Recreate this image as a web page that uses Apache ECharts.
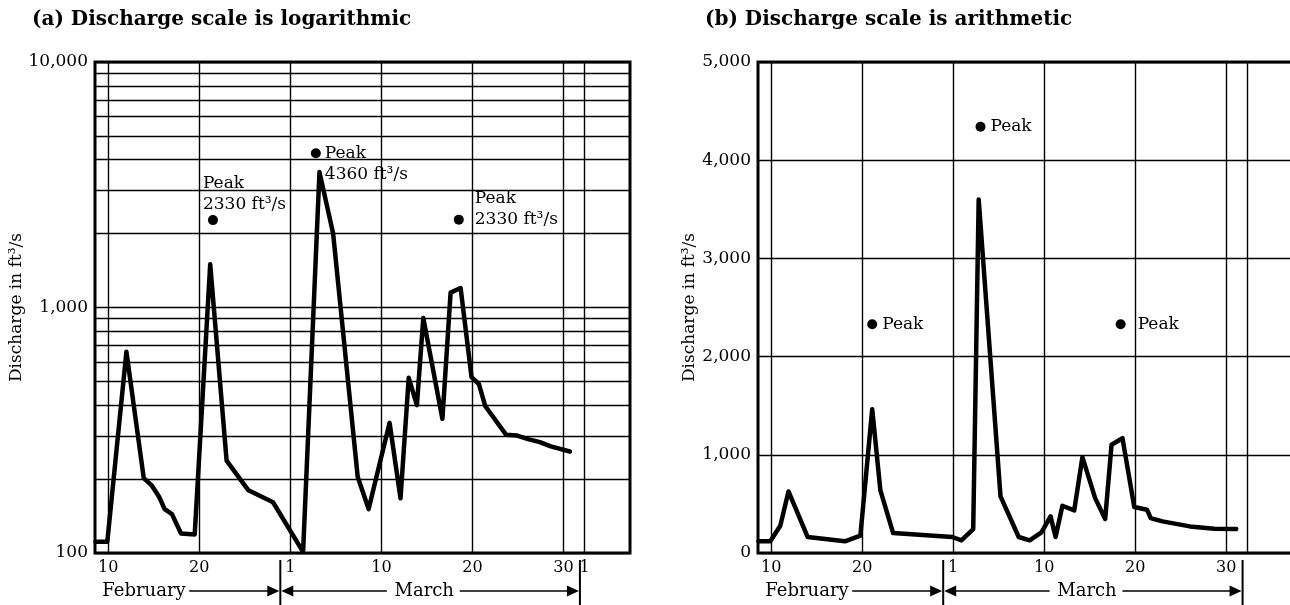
<!DOCTYPE html>
<html>
<head>
<meta charset="utf-8">
<script src="https://cdn.jsdelivr.net/npm/echarts@6/dist/echarts.min.js"></script>
<style>
  html, body { margin: 0; background: #fff; }
  #main { width: 1290px; height: 605px; }
</style>
</head>
<body>
<div id="main"></div>
<script>
// x is a nominal day count: Feb 10 = 10, Mar 1 = 30, Mar 30 = 60, Apr 1 = 62.3
var tickDays = [10, 20, 30, 40, 50, 60, 62.3];
var tickLabels = ['10', '20', '1', '10', '20', '30', '1'];
var arithLabelDays = [10, 20, 30, 40, 50, 60];

var logTicks = [100, 200, 300, 400, 500, 600, 700, 800, 900,
  1000, 2000, 3000, 4000, 5000, 6000, 7000, 8000, 9000, 10000];
var logLabelValues = [100, 1000, 10000];

// (a) hydrograph as drawn on the log panel
var logDays = [8.6, 9.9, 12.0, 13.9, 14.8, 15.6, 16.2, 17.0, 18.0, 19.5, 21.2, 23.0,
  25.4, 28.1, 31.4, 33.2, 34.7, 37.4, 38.6, 40.9, 42.1, 43.0, 43.9, 44.6, 46.7, 47.6,
  48.7, 49.9, 50.7, 51.4, 53.7, 54.9, 56.1, 57.4, 58.6, 60.7];
var logFlow = [111, 111, 660, 202, 188, 169, 151, 144, 120, 119, 1500, 238,
  180, 161, 101, 3560, 2000, 204, 151, 339, 167, 517, 400, 906, 352, 1150,
  1200, 520, 488, 397, 303, 301, 291, 283, 272, 259];

// (b) hydrograph as drawn on the arithmetic panel
var arithDays = [8.6, 9.9, 11.0, 11.9, 14.0, 18.1, 19.8, 21.1, 22.0, 23.4, 29.9, 30.9,
  32.2, 32.8, 35.2, 37.2, 38.4, 39.7, 40.7, 41.25, 42.0, 43.3, 44.2, 45.6, 46.7, 47.4,
  48.6, 49.9, 51.3, 51.7, 53.0, 56.0, 58.7, 61.1];
var arithFlow = [120, 119, 278, 627, 163, 119, 176, 1464, 637, 203, 163, 129,
  244, 3600, 576, 163, 129, 210, 373, 163, 481, 434, 976, 559, 346, 1102,
  1169, 468, 441, 356, 322, 271, 247, 244];

// peak discharge dots, as placed on each panel
var logPeakDays = [21.5, 32.8, 48.5];
var logPeakFlow = [2270, 4250, 2280];
var logPeakText = ['Peak\n2330 ft\u00B3/s', 'Peak\n4360 ft\u00B3/s', 'Peak\n2330 ft\u00B3/s'];
var arithPeakDays = [21.1, 33.0, 48.4];
var arithPeakFlow = [2330, 4340, 2330];

var FONT = 'DejaVu Serif';
var INK = '#000';

function pairs(xs, ys) {
  return xs.map(function (x, i) { return [x, ys[i]]; });
}

function dayLabel(v) {
  var best = 0;
  tickDays.forEach(function (d, i) {
    if (Math.abs(d - v) < Math.abs(tickDays[best] - v)) best = i;
  });
  return tickLabels[best];
}

function xAxisFor(gridIndex, max, labelDays) {
  return {
    type: 'value', gridIndex: gridIndex, min: 8.55, max: max,
    axisLine: { show: false },
    axisTick: { show: false, customValues: tickDays },
    splitLine: { show: true, lineStyle: { color: INK, width: 1.4 } },
    axisLabel: {
      customValues: labelDays, margin: 7, color: INK,
      fontFamily: FONT, fontSize: 16, formatter: dayLabel
    }
  };
}

var yName = {
  name: 'Discharge in ft\u00B3/s', nameLocation: 'middle', nameGap: 60,
  nameTextStyle: { fontFamily: FONT, fontSize: 17, color: INK }
};

var logPeakLabels = [
  { show: true, position: 'top', distance: 0, align: 'left', offset: [-10, 0] },
  { show: true, position: 'right', distance: 4, verticalAlign: 'top', offset: [0, -10.5] },
  { show: true, position: 'right', distance: 11, verticalAlign: 'bottom', offset: [0, 10.5] }
];
var arithPeakDistance = [5, 5, 12];

var peakLabelStyle = { color: INK, fontFamily: FONT, fontSize: 17, lineHeight: 21 };
var titleStyle = { fontFamily: FONT, fontWeight: 'bold', fontSize: 20, color: INK };

var option = {
  animation: false,
  title: [
    { text: '(a) Discharge scale is logarithmic', left: 32, top: 10, padding: 0, textStyle: titleStyle },
    { text: '(b) Discharge scale is arithmetic', left: 705, top: 10, padding: 0, textStyle: titleStyle }
  ],
  grid: [
    { left: 95, right: 660, top: 62, bottom: 52, show: true, borderColor: INK, borderWidth: 3, outerBoundsMode: 'none' },
    { left: 758, right: -4, top: 62, bottom: 52, show: true, borderColor: INK, borderWidth: 3, outerBoundsMode: 'none' }
  ],
  xAxis: [
    xAxisFor(0, 67.3, tickDays),
    xAxisFor(1, 67.45, arithLabelDays)
  ],
  yAxis: [
    Object.assign({
      type: 'log', gridIndex: 0, logBase: 10, min: 100, max: 10000,
      axisLine: { show: false },
      axisTick: { show: false, customValues: logTicks },
      splitLine: { show: true, lineStyle: { color: INK, width: 1.4 } },
      axisLabel: {
        customValues: logLabelValues, margin: 7, color: INK, fontFamily: FONT, fontSize: 17,
        formatter: function (v) { return Math.round(v).toLocaleString('en'); }
      }
    }, yName),
    Object.assign({
      type: 'value', gridIndex: 1, min: 0, max: 5000, interval: 1000,
      axisLine: { show: false },
      axisTick: { show: false },
      splitLine: { show: true, lineStyle: { color: INK, width: 1.4 } },
      axisLabel: {
        margin: 7, color: INK, fontFamily: FONT, fontSize: 17,
        formatter: function (v) { return v.toLocaleString('en'); }
      }
    }, yName)
  ],
  series: [
    {
      type: 'line', xAxisIndex: 0, yAxisIndex: 0, data: pairs(logDays, logFlow),
      symbol: 'none', z: 5,
      lineStyle: { color: INK, width: 4.5, join: 'round', cap: 'round' }
    },
    {
      type: 'line', xAxisIndex: 1, yAxisIndex: 1, data: pairs(arithDays, arithFlow),
      symbol: 'none', z: 5,
      lineStyle: { color: INK, width: 4.5, join: 'round', cap: 'round' }
    },
    {
      type: 'scatter', xAxisIndex: 0, yAxisIndex: 0, symbolSize: 10, z: 6,
      itemStyle: { color: INK, opacity: 1 },
      label: peakLabelStyle,
      data: logPeakDays.map(function (d, i) {
        return {
          value: [d, logPeakFlow[i]],
          label: Object.assign({ formatter: logPeakText[i] }, logPeakLabels[i])
        };
      })
    },
    {
      type: 'scatter', xAxisIndex: 1, yAxisIndex: 1, symbolSize: 10, z: 6,
      itemStyle: { color: INK, opacity: 1 },
      label: peakLabelStyle,
      data: arithPeakDays.map(function (d, i) {
        return {
          value: [d, arithPeakFlow[i]],
          label: { show: true, position: 'right', distance: arithPeakDistance[i], formatter: 'Peak' }
        };
      })
    }
  ]
};

var chart = echarts.init(document.getElementById('main'));
chart.setOption(option);

// month bar under each panel: February ->| <- March ->|
function monthBar(xAxisIndex) {
  var px = function (t) { return chart.convertToPixel({ xAxisIndex: xAxisIndex }, t); };
  var y = 591;
  var sep1 = px(28.9), sep2 = px(61.8);
  var out = [];
  [sep1, sep2].forEach(function (x) {
    out.push({ type: 'line', shape: { x1: x, y1: 560, x2: x, y2: 605 }, style: { stroke: INK, lineWidth: 2 } });
  });
  function arrow(from, to) {
    var dir = to > from ? 1 : -1;
    out.push({ type: 'line', shape: { x1: from, y1: y, x2: to - dir * 6, y2: y }, style: { stroke: INK, lineWidth: 1.5 } });
    out.push({ type: 'polygon', shape: { points: [[to, y], [to - dir * 12, y - 5.5], [to - dir * 12, y + 5.5]] }, style: { fill: INK } });
  }
  arrow(px(18.9), sep1 - 1);
  arrow(px(40.6), sep1 + 1);
  arrow(px(48.6), sep2 - 1);
  out.push({ type: 'text', style: { text: 'February', x: px(9.35), y: y, verticalAlign: 'middle', font: '18px "DejaVu Serif"', fill: INK } });
  out.push({ type: 'text', style: { text: 'March', x: px(44.7), y: y, align: 'center', verticalAlign: 'middle', font: '18px "DejaVu Serif"', fill: INK } });
  return out;
}

chart.setOption({ graphic: monthBar(0).concat(monthBar(1)) });
</script>
</body>
</html>
